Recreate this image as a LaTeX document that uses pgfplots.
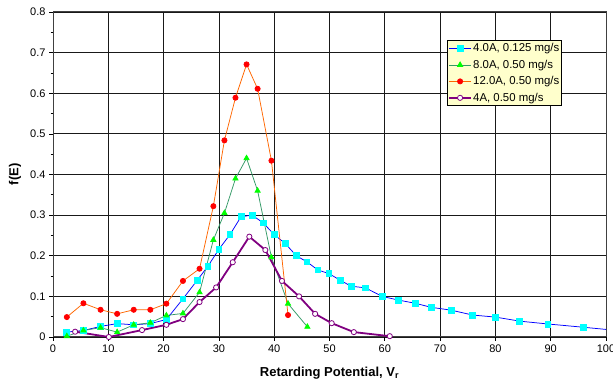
\documentclass[border=0pt]{standalone}
\usepackage{fontspec}
\setmainfont{Liberation Sans}
\usepackage{pgfplots}
\pgfplotsset{compat=1.18}
\usetikzlibrary{calc}

\definecolor{serblue}{RGB}{0,0,255}
\definecolor{sercyan}{RGB}{0,255,255}
\definecolor{sergreenline}{RGB}{51,153,102}
\definecolor{sergreen}{RGB}{0,255,0}
\definecolor{serorange}{RGB}{255,102,0}
\definecolor{serred}{RGB}{255,0,0}
\definecolor{serpurple}{RGB}{128,0,128}
\definecolor{legbg}{RGB}{255,255,204}

\begin{document}
\begin{tikzpicture}
\begin{axis}[
  name=ax,
  scale only axis,
  width=553bp, height=325bp,
  xmin=0, xmax=100, ymin=0, ymax=0.8,
  xtick={0,10,...,100},
  ytick={0,0.1,...,0.8},
  minor y tick num=1,
  grid=major,
  major grid style={draw=black!90, line width=0.8bp},
  axis line style={draw=black!75, line width=1bp},
  tick align=outside,
  major tick length=4bp,
  minor tick length=2.5bp,
  tick pos=left,
  tick style={draw=black, line width=0.7bp},
  /pgf/number format/assume math mode=true,
  yticklabel style={/pgf/number format/.cd, fixed, precision=1},
  ticklabel style={font=\fontsize{11bp}{13bp}\selectfont},
  xlabel={\textbf{Retarding Potential, V\textsubscript{r}}},
  ylabel={\textbf{f(E)}},
  label style={font=\fontsize{13bp}{15bp}\selectfont},
  xlabel style={at={(axis description cs:0.5,0)}, anchor=center, yshift=-36bp},
  ylabel style={at={(axis description cs:-0.0687,0.5)}, anchor=center},
  legend style={
    at={(0.712,0.914)}, anchor=north west,
    fill=legbg, draw=black, line width=0.9bp,
    font=\fontsize{11.4bp}{12bp}\selectfont,
    inner xsep=1bp, inner ysep=2bp,
    row sep=4.3bp,
    nodes={inner sep=1.2bp},
  },
  legend cell align=left,
  legend image code/.code={
    \draw[mark repeat=2,mark phase=2]
      plot coordinates {(0bp,0bp) (11bp,0bp) (22bp,0bp)};
  },
]

% 4.0 A, 0.125 mg/s
\addplot[color=serblue, line width=0.75bp, mark=square*,
  mark options={draw=sercyan, fill=sercyan, mark size=2.9bp}]
  coordinates {
  (2.4,0.012) (5.5,0.016) (8.6,0.026) (11.6,0.033) (14.6,0.030)
  (17.6,0.033) (20.5,0.043) (23.5,0.094) (26.1,0.140) (28.0,0.174)
  (30.0,0.216) (32.0,0.252) (34.0,0.296) (36.0,0.300) (38.0,0.281)
  (40.0,0.252) (42.0,0.230) (44.0,0.200) (45.9,0.185) (47.9,0.165)
  (49.9,0.156) (51.9,0.140) (53.9,0.125) (56.5,0.121) (59.5,0.100)
  (62.4,0.091) (65.5,0.083) (68.4,0.073) (72.0,0.066) (75.9,0.054)
  (80.0,0.049) (84.4,0.039) (89.5,0.032) (95.9,0.024) (102.0,0.016)
  };
\addlegendentry{4.0A, 0.125 mg/s}

% 8.0 A, 0.50 mg/s
\addplot[color=sergreenline, line width=0.75bp, mark=triangle*,
  mark options={draw=sergreen, fill=sergreen, mark size=3bp}]
  coordinates {
  (2.5,0.002) (5.5,0.016) (8.6,0.023) (11.6,0.012) (14.6,0.030)
  (17.6,0.035) (20.5,0.053) (23.5,0.058) (26.5,0.110) (29.0,0.239)
  (31.0,0.305) (33.0,0.390) (35.0,0.440) (37.0,0.360) (39.5,0.196)
  (42.5,0.082) (46.0,0.025)
  };
\addlegendentry{8.0A, 0.50 mg/s}

% 12.0 A, 0.50 mg/s
\addplot[color=serorange, line width=0.75bp, mark=*,
  mark options={draw=serred, fill=serred, mark size=2.6bp}]
  coordinates {
  (2.5,0.049) (5.5,0.083) (8.6,0.067) (11.6,0.057) (14.6,0.067)
  (17.6,0.067) (20.5,0.082) (23.5,0.138) (26.5,0.168) (29.0,0.322)
  (31.0,0.484) (33.0,0.589) (35.0,0.671) (37.0,0.611) (39.5,0.434)
  (42.5,0.054)
  };
\addlegendentry{12.0A, 0.50 mg/s}

% 4 A, 0.50 mg/s
\addplot[color=serpurple, line width=1.8bp, mark=*,
  mark options={draw=serpurple, fill=white, line width=0.8bp, mark size=2.6bp}]
  coordinates {
  (4.0,0.013) (10.1,0.000) (16.1,0.017) (20.5,0.030) (23.5,0.044)
  (26.5,0.086) (29.5,0.122) (32.5,0.184) (35.5,0.247) (38.4,0.214)
  (41.4,0.138) (44.5,0.100) (47.4,0.057) (50.4,0.034) (54.4,0.012)
  (60.9,0.002)
  };
\addlegendentry{4A, 0.50 mg/s}

\end{axis}
% page frame: fixed margins around the plot area
\pgfresetboundingbox
\path[use as bounding box]
  ($(ax.south west)+(-53bp,-48bp)$) rectangle ($(ax.north east)+(7bp,12bp)$);
\end{tikzpicture}
\end{document}
